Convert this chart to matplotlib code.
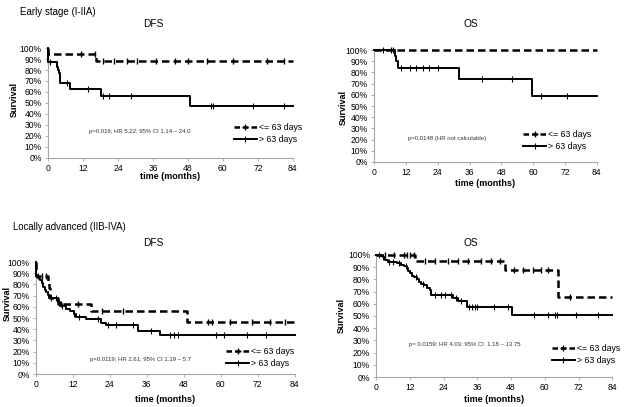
import numpy as np
import matplotlib
matplotlib.use("Agg")
import matplotlib.pyplot as plt
from matplotlib.lines import Line2D

plt.rcParams['font.family'] = ['Liberation Sans', 'DejaVu Sans']

xticks = [0, 12, 24, 36, 48, 60, 72, 84]
yticks = list(range(0, 101, 10))
legend_labels = ["<= 63 days", "> 63 days"]

# ---- Early stage DFS ----
e_dfs_short_t = [0, 16.4]
e_dfs_short_s = [94.4, 88.5]
e_dfs_short_c = [11.4, 16, 19, 22.5, 27, 30.4, 37, 43.5, 48, 54.6, 63.5, 75, 81]
e_dfs_long_t = [0, 3, 3.5, 3.8, 4, 4.2, 7.5, 18.2, 48.8]
e_dfs_long_s = [87, 83, 80, 77, 73, 68, 62.7, 56.4, 47]
e_dfs_long_c = [0.8, 6.5, 13.6, 19, 20.8, 28.4, 55.8, 56.7, 70.4, 81]

# ---- Early stage OS ----
e_os_short_t = []
e_os_short_s = []
e_os_short_c = []
e_os_long_t = [7.8, 8.4, 9, 31.9, 59.7]
e_os_long_s = [95, 90, 84.2, 73.7, 58.9]
e_os_long_c = [3.3, 6.4, 7.1, 10.2, 13.7, 16, 18.3, 20.8, 24, 40.8, 52, 62.8, 72.9]

# ---- Locally advanced DFS ----
l_dfs_short_t = [0, 3.8, 4.2, 4.6, 7.2, 18, 48.9]
l_dfs_short_s = [88, 82.8, 77.3, 68, 62.3, 56.2, 46.8]
l_dfs_short_c = [1.8, 3.2, 8, 13.7, 21.3, 28.3, 55.9, 57.2, 63, 70, 75.9, 81]
l_dfs_long_t = [0, 0.8, 1.3, 1.8, 2.3, 2.8, 3.3, 3.8, 4.3, 7.3, 7.8, 9.9, 11,
                12.3, 13, 16.2, 21, 22.7, 33.2, 40.4]
l_dfs_long_s = [88, 86, 84, 81, 78, 75, 73, 71, 68, 64, 61, 58, 56, 54, 51,
                48.8, 46, 43.5, 38.8, 34.9]
l_dfs_long_c = [0.5, 2, 4.8, 6.5, 8.5, 12.5, 14, 20, 23.5, 26, 31.5, 37.5,
                43.5, 44.8, 46.2, 58.6, 61, 68.5, 74.6]

# ---- Locally advanced OS ----
l_os_short_t = [13.9, 46, 64.6]
l_os_short_s = [95.2, 87.3, 65.3]
l_os_short_c = [3, 6.5, 10, 11, 12, 13.5, 17.2, 21, 25.5, 29, 32.6, 37.4, 41,
                43.9, 49.2, 52.2, 55.8, 58.7, 61, 68.8]
l_os_long_t = [1.8, 2.3, 2.8, 3.3, 4.2, 7.5, 9, 10, 11, 11.5, 12, 12.8, 13.5,
               14.5, 15.3, 16, 17, 18, 19, 19.5, 27.3, 29, 32.3, 48.4]
l_os_long_s = [99, 98, 97, 96, 94.5, 93.3, 92, 91, 89, 87, 85, 83, 81.5,
               80, 78, 76.5, 75, 73.2, 71.3, 67.5, 65, 62, 57.6, 50.4]
l_os_long_c = [1, 2.5, 4.5, 6, 8, 10.5, 14, 16.5, 21, 23, 24.5, 26.5, 28.5,
               30, 33, 34, 35, 36, 42, 47, 56.3, 61.1, 63.7, 64.3, 71.2, 78.9]

W, H = 628, 407

panels = [
    dict(pos=[0.0764, 0.612, 0.390, 0.270], title="DFS", title_px=(153, 24),
         short=(e_dfs_short_t, e_dfs_short_s, e_dfs_short_c),
         long=(e_dfs_long_t, e_dfs_long_s, e_dfs_long_c),
         note="p=0.016; HR 5.22; 95% CI 1.14 \u2013 24.0", note_xy=(0.375, 0.24),
         leg_xy=(0.76, 0.225), xlab_pad=-1, ylab_xy=(-0.119, 0.53)),
    dict(pos=[0.5955, 0.602, 0.355, 0.275], title="OS", title_px=(471, 24),
         short=(e_os_short_t, e_os_short_s, e_os_short_c),
         long=(e_os_long_t, e_os_long_s, e_os_long_c),
         note="p=0.0148 (HR not calculable)", note_xy=(0.33, 0.21),
         leg_xy=(0.67, 0.195), xlab_pad=1, ylab_xy=(-0.117, 0.49)),
    dict(pos=[0.0573, 0.081, 0.412, 0.275], title="DFS", title_px=(153, 243),
         short=(l_dfs_short_t, l_dfs_short_s, l_dfs_short_c),
         long=(l_dfs_long_t, l_dfs_long_s, l_dfs_long_c),
         note="p=0.0119; HR 2.61; 95% CI 1.19 \u2013 5.7", note_xy=(0.405, 0.13),
         leg_xy=(0.735, 0.145), xlab_pad=4, ylab_xy=(-0.093, 0.63)),
    dict(pos=[0.599, 0.0737, 0.376, 0.300], title="OS", title_px=(471, 243),
         short=(l_os_short_t, l_os_short_s, l_os_short_c),
         long=(l_os_long_t, l_os_long_s, l_os_long_c),
         note="p= 0.0159; HR 4.03; 95% CI  1.18 \u2013 13.75", note_xy=(0.377, 0.27),
         leg_xy=(0.745, 0.185), xlab_pad=2, ylab_xy=(-0.127, 0.5)),
]


def step_xy(t, s):
    x = [0.0] + list(t) + [84.0]
    y = [100.0] + list(s) + [s[-1] if len(s) else 100.0]
    return np.array(x), np.array(y)


def surv_at(t, s, c):
    t = np.asarray(t, dtype=float)
    s = np.asarray(s, dtype=float)
    out = []
    for ci in c:
        idx = np.searchsorted(t, ci, side='right') - 1
        out.append(100.0 if idx < 0 else s[idx])
    return np.array(out)


fig = plt.figure(figsize=(6.28, 4.07), dpi=100)
fs = 6.2
gray = '#a6a6a6'

for p in panels:
    ax = fig.add_axes(p['pos'])
    # short group (dashed)
    t, s, c = p['short']
    x, y = step_xy(t, s)
    ax.step(x, y, where='post', color='black', lw=1.8, ls=(0, (3, 1.6)),
            clip_on=False, zorder=3)
    if len(c):
        ax.plot(c, surv_at(t, s, c), ls='none', marker='|', color='black',
                ms=5, mew=1.0, clip_on=False, zorder=4)
    # long group (solid)
    t, s, c = p['long']
    x, y = step_xy(t, s)
    ax.step(x, y, where='post', color='black', lw=1.4, clip_on=False, zorder=3)
    if len(c):
        ax.plot(c, surv_at(t, s, c), ls='none', marker='|', color='black',
                ms=5, mew=0.8, clip_on=False, zorder=4)

    ax.set_xlim(0, 84)
    ax.set_ylim(0, 100)
    ax.set_xticks(xticks)
    ax.set_yticks(yticks)
    ax.set_yticklabels([f"{v}%" for v in yticks])
    for sp in ['top', 'right']:
        ax.spines[sp].set_visible(False)
    for sp in ['left', 'bottom']:
        ax.spines[sp].set_color(gray)
        ax.spines[sp].set_linewidth(0.8)
    ax.tick_params(axis='both', labelsize=fs, length=2.5, width=0.6,
                   color=gray, pad=2)
    ax.set_xlabel("time (months)", fontsize=fs + 0.3, fontweight='bold',
                  labelpad=p['xlab_pad'])
    ax.set_ylabel("Survival", fontsize=fs + 0.3, fontweight='bold')
    ax.yaxis.set_label_coords(*p['ylab_xy'])
    ax.text(p['note_xy'][0], p['note_xy'][1], p['note'], transform=ax.transAxes,
            fontsize=4.3, ha='center', va='center', color='#333333')
    handles = [
        Line2D([], [], color='black', lw=1.8, ls=(0, (2.2, 1.2)), marker='+',
               ms=4, mew=1.0, markevery=[1]),
        Line2D([], [], color='black', lw=1.4, marker='|', ms=4, mew=0.8,
               markevery=[1]),
    ]
    ax.legend(handles, legend_labels, loc='center left',
              bbox_to_anchor=p['leg_xy'], fontsize=6.3, frameon=False,
              handlelength=2.6, handletextpad=0.2, labelspacing=0.35,
              borderpad=0.0, borderaxespad=0.0)
    fig.text(p['title_px'][0] / W, 1 - p['title_px'][1] / H, p['title'],
             fontsize=7.3, ha='center', va='center')

fig.text(20 / W, 1 - 12 / H, "Early stage (I-IIA)", fontsize=7.0,
         ha='left', va='center')
fig.text(13 / W, 1 - 227 / H, "Locally advanced (IIB-IVA)", fontsize=6.9,
         ha='left', va='center')

fig.savefig("out.png", dpi=100)
